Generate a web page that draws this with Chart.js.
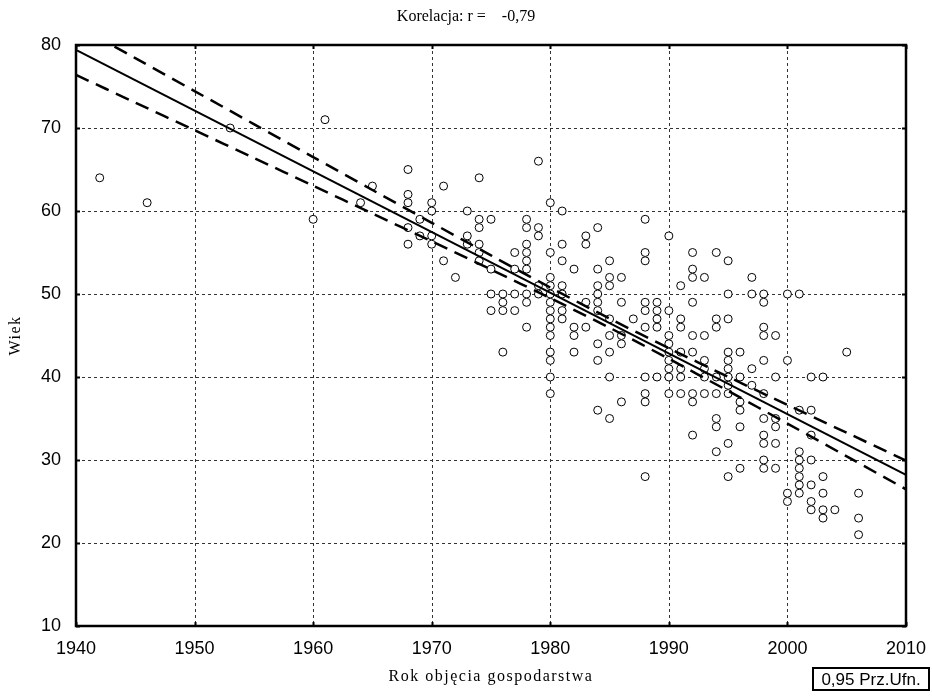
<!DOCTYPE html>
<html>
<head>
<meta charset="utf-8">
<title>Korelacja</title>
<script src="https://cdn.jsdelivr.net/npm/chart.js@4.4.0/dist/chart.umd.min.js"></script>
<style>
  html, body { margin: 0; padding: 0; background: #fff; }
  #wrap { position: relative; width: 932px; height: 697px; }
</style>
</head>
<body>
<div id="wrap"><canvas id="chart" width="932" height="697"></canvas></div>
<script>
// Observations: year the farm was taken over, and the ages recorded for that year
const pointYears = [1942, 1946, 1953, 1960, 1961, 1964, 1965, 1968, 1969, 1970,
    1971, 1972, 1973, 1974, 1975, 1976, 1977, 1978, 1979, 1980,
    1981, 1982, 1983, 1984, 1985, 1986, 1987, 1988, 1989, 1990,
    1991, 1992, 1993, 1994, 1995, 1996, 1997, 1998, 1999, 2000,
    2001, 2002, 2003, 2004, 2005, 2006];
const pointAges = [
    [64], [61], [70], [59], [71], [61], [63],
    [65, 62, 61, 58, 56],
    [59, 57],
    [61, 60, 57, 56],
    [63, 54],
    [52],
    [60, 57, 56],
    [64, 59, 58, 56, 55, 54],
    [59, 53, 50, 48],
    [50, 49, 48, 43],
    [55, 53, 50, 48],
    [59, 58, 56, 55, 54, 53, 50, 49, 46],
    [66, 58, 57, 51, 50],
    [61, 55, 52, 51, 50, 49, 48, 47, 46, 45, 43, 42, 40, 38],
    [60, 56, 54, 51, 50, 48, 47],
    [53, 46, 45, 43],
    [57, 56, 49, 46],
    [58, 53, 51, 50, 49, 48, 44, 42, 36],
    [54, 52, 51, 47, 45, 43, 40, 35],
    [52, 49, 45, 44, 37],
    [47],
    [59, 55, 54, 49, 48, 46, 40, 38, 37, 28],
    [49, 48, 47, 46, 40],
    [57, 48, 45, 44, 43, 42, 41, 40, 38],
    [51, 47, 46, 43, 41, 40, 38],
    [55, 53, 52, 49, 45, 43, 38, 37, 33],
    [52, 45, 42, 41, 40, 38],
    [55, 47, 46, 40, 38, 35, 34, 31],
    [54, 50, 47, 43, 42, 41, 40, 39, 38, 32, 28],
    [43, 40, 37, 36, 34, 29],
    [52, 50, 41, 39],
    [50, 49, 46, 45, 42, 38, 35, 33, 32, 30, 29],
    [45, 40, 35, 34, 32, 29],
    [50, 42, 26, 25],
    [50, 36, 31, 30, 29, 28, 27, 26],
    [40, 36, 33, 30, 27, 25, 24],
    [40, 28, 26, 24, 23],
    [24],
    [43],
    [26, 23, 21]
];

// Regression line (read at the ends of the axis)
const fitYears = [1940, 2010];
const fitAges = [79.4, 28.2];

// 0.95 confidence band, read every 5 years
const bandYears = [1940, 1945, 1950, 1955, 1960, 1965, 1970, 1975, 1980, 1985, 1990, 1995, 2000, 2005, 2010];
const bandUpper = [82.4, 78.42, 74.45, 70.47, 66.5, 62.53, 58.58, 54.65, 50.78, 47.04, 43.47, 40.02, 36.63, 33.28, 29.93];
const bandLower = [76.4, 73.06, 69.73, 66.39, 63.04, 59.69, 56.34, 52.95, 49.5, 45.94, 42.19, 38.32, 34.39, 30.44, 26.47];

// Axis ticks
const xTicks = [1940, 1950, 1960, 1970, 1980, 1990, 2000, 2010];
const yTicks = [10, 20, 30, 40, 50, 60, 70, 80];

const titleText = 'Korelacja: r =    -0,79';
const xTitle = 'Rok objęcia gospodarstwa';
const yTitle = 'Wiek';
const legendText = '0,95 Prz.Ufn.';

const scatterData = [];
pointYears.forEach((yr, i) => {
    pointAges[i].forEach(age => scatterData.push({ x: yr, y: age }));
});

function toXY(xs, ys) {
    return xs.map((x, i) => ({ x: x, y: ys[i] }));
}

// Dashed grid under the data, frame and texts on top
const framePlugin = {
    id: 'frame',
    beforeDatasetsDraw(chart) {
        const { ctx, chartArea: a, scales } = chart;
        ctx.save();
        ctx.strokeStyle = '#333';
        ctx.lineWidth = 1;
        ctx.setLineDash([3, 3]);
        xTicks.forEach(v => {
            const px = Math.round(scales.x.getPixelForValue(v)) + 0.5;
            ctx.beginPath();
            ctx.moveTo(px, a.top);
            ctx.lineTo(px, a.bottom);
            ctx.stroke();
        });
        yTicks.forEach(v => {
            const py = Math.round(scales.y.getPixelForValue(v)) + 0.5;
            ctx.beginPath();
            ctx.moveTo(a.left, py);
            ctx.lineTo(a.right, py);
            ctx.stroke();
        });
        ctx.restore();
    },
    afterDraw(chart) {
        const { ctx, chartArea: a, scales } = chart;
        ctx.save();
        ctx.strokeStyle = '#000';
        ctx.lineWidth = 2.5;
        ctx.strokeRect(a.left, a.top, a.right - a.left, a.bottom - a.top);

        // short tick marks on the frame
        ctx.lineWidth = 2;
        xTicks.forEach(v => {
            const px = Math.round(scales.x.getPixelForValue(v)) + 0.5;
            ctx.beginPath();
            ctx.moveTo(px, a.bottom); ctx.lineTo(px, a.bottom - 4);
            ctx.moveTo(px, a.top); ctx.lineTo(px, a.top + 4);
            ctx.stroke();
        });
        yTicks.forEach(v => {
            const py = Math.round(scales.y.getPixelForValue(v)) + 0.5;
            ctx.beginPath();
            ctx.moveTo(a.left, py); ctx.lineTo(a.left + 4, py);
            ctx.moveTo(a.right, py); ctx.lineTo(a.right - 4, py);
            ctx.stroke();
        });

        ctx.fillStyle = '#000';
        ctx.textAlign = 'center';
        ctx.textBaseline = 'middle';
        ctx.font = '16px "Liberation Serif", "Times New Roman", serif';
        ctx.fillText(titleText, 466, 17);

        if ('letterSpacing' in ctx) ctx.letterSpacing = '1.5px';
        ctx.fillText(xTitle, (a.left + a.right) / 2, 677);

        ctx.translate(16, (a.top + a.bottom) / 2);
        ctx.rotate(-Math.PI / 2);
        ctx.fillText(yTitle, 0, 0);
        ctx.restore();

        // confidence-band note
        ctx.save();
        if ('letterSpacing' in ctx) ctx.letterSpacing = '0px';
        ctx.strokeStyle = '#000';
        ctx.lineWidth = 2;
        ctx.strokeRect(813, 668, 116, 22);
        ctx.fillStyle = '#000';
        ctx.font = '17px "Liberation Sans", Arial, sans-serif';
        ctx.textAlign = 'center';
        ctx.textBaseline = 'middle';
        ctx.fillText(legendText, 871, 680);
        ctx.restore();
    }
};

const tickFont = { family: '"Liberation Sans", Arial, sans-serif', size: 18 };

new Chart(document.getElementById('chart').getContext('2d'), {
    type: 'scatter',
    data: {
        datasets: [
            {
                label: 'fit',
                data: toXY(fitYears, fitAges),
                showLine: true,
                borderColor: '#000',
                borderWidth: 2,
                pointRadius: 0,
                order: 0
            },
            {
                label: 'upper',
                data: toXY(bandYears, bandUpper),
                showLine: true,
                borderColor: '#000',
                borderWidth: 2.5,
                borderDash: [14, 8],
                pointRadius: 0,
                tension: 0.3,
                order: 0
            },
            {
                label: 'lower',
                data: toXY(bandYears, bandLower),
                showLine: true,
                borderColor: '#000',
                borderWidth: 2.5,
                borderDash: [14, 8],
                pointRadius: 0,
                tension: 0.3,
                order: 0
            },
            {
                label: 'Wiek',
                data: scatterData,
                pointRadius: 4,
                pointBorderWidth: 1,
                pointBorderColor: '#000',
                pointBackgroundColor: '#fff',
                order: 1
            }
        ]
    },
    options: {
        responsive: false,
        animation: false,
        layout: { padding: { top: 45, right: 26, left: 0, bottom: 0 } },
        plugins: {
            legend: { display: false },
            tooltip: { enabled: false }
        },
        scales: {
            x: {
                type: 'linear',
                min: 1940,
                max: 2010,
                grid: { display: false },
                border: { display: false },
                afterFit: scale => { scale.height = 71; },
                afterBuildTicks: scale => { scale.ticks = xTicks.map(v => ({ value: v })); },
                ticks: {
                    font: tickFont,
                    color: '#000',
                    padding: 4,
                    maxRotation: 0,
                    callback: v => String(v)
                }
            },
            y: {
                min: 10,
                max: 80,
                grid: { display: false },
                border: { display: false },
                afterFit: scale => { scale.width = 76; },
                afterBuildTicks: scale => { scale.ticks = yTicks.map(v => ({ value: v })); },
                ticks: {
                    font: tickFont,
                    color: '#000',
                    padding: 7,
                    callback: v => String(v)
                }
            }
        }
    },
    plugins: [framePlugin]
});
</script>
</body>
</html>
